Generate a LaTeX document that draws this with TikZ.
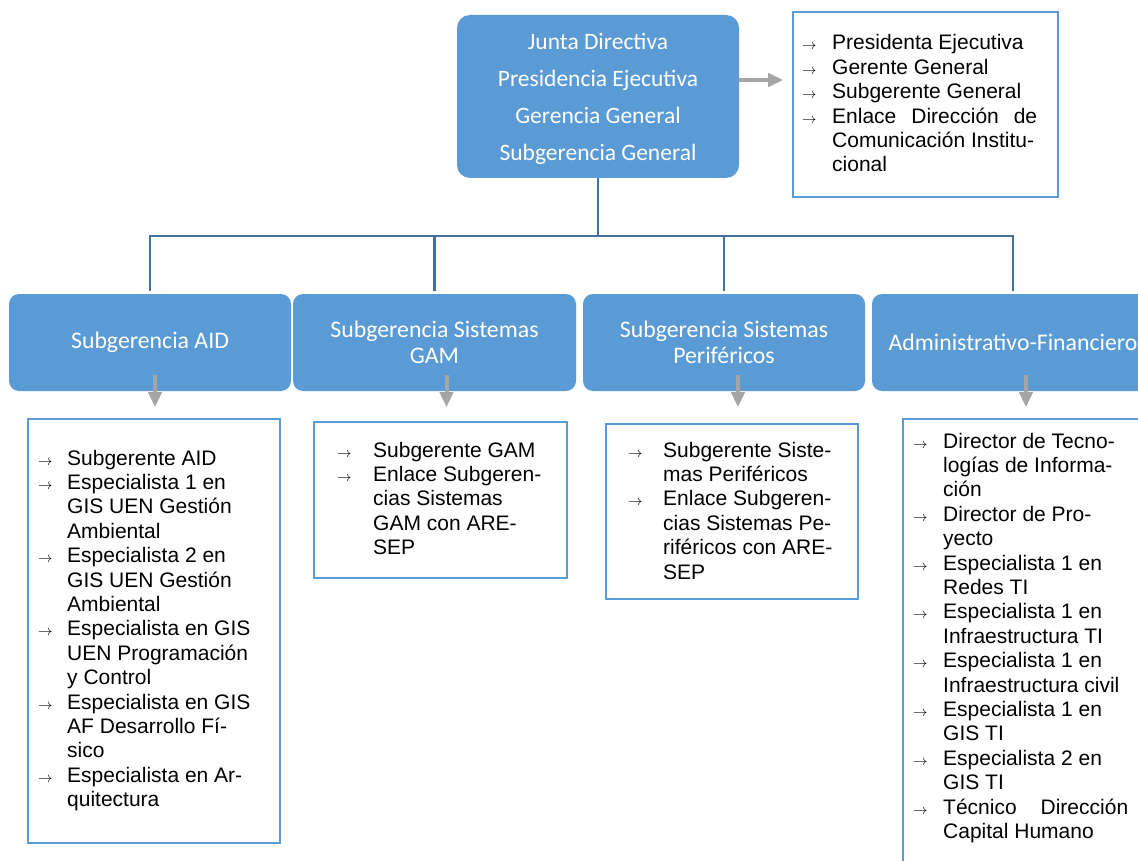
\documentclass[tikz,border=0pt]{standalone}
\usepackage{fontspec}
\setmainfont{Liberation Sans}
\newfontfamily\calibrifont{Carlito}
\usetikzlibrary{arrows.meta,calc}
\definecolor{boxblue}{RGB}{91,155,213}
\definecolor{linkblue}{RGB}{65,113,156}
\definecolor{arrowgray}{RGB}{165,165,165}
% small arrow used as list marker
\newcommand{\itemarrow}{{\fontsize{14.4}{14.4}\selectfont$\rightarrow$}}
\newcommand{\li}[1]{\itemarrow & #1\\}
\newcommand{\lc}[1]{& #1\\}
\begin{document}
\begin{tikzpicture}[x=1pt,y=-1pt,
  topbox/.style={fill=boxblue, rounded corners=13pt, text=white, align=center,
    inner sep=0pt, font=\calibrifont\fontsize{23.5}{36.7}\selectfont},
  unitbox/.style={fill=boxblue, rounded corners=10pt, text=white, align=center,
    inner sep=0pt, minimum width=282, minimum height=97,
    font=\calibrifont\fontsize{23.8}{26}\selectfont},
  listbox/.style={draw=boxblue, line width=2pt, fill=white, inner sep=0pt, anchor=north west},
  listtext/.style={anchor=base west, inner sep=0pt, font=\fontsize{21}{24.4}\selectfont},
  conn/.style={draw=linkblue, line width=2.2pt},
  grayarr/.style={draw=arrowgray, line width=4pt, -{Triangle[width=13pt,length=15pt]}, arrowgray}
]
\useasboundingbox[fill=white] (0,0) rectangle (1138,861);

% top level
\node[topbox, minimum width=282, minimum height=163] (top) at (598,96.5)
  {\rule{0pt}{21pt}Junta Directiva\\Presidencia Ejecutiva\\Gerencia General\\Subgerencia General};

% list beside the top level
\node[listbox, minimum width=265, minimum height=185] (rb) at (792,11) {};
\node[listtext] (rbt) at (802,50) {\begin{tabular}[t]{@{}p{30pt}@{}l@{}}
\li{Presidenta Ejecutiva}
\li{Gerente General}
\li{Subgerente General}
\li{\makebox[205pt][s]{Enlace Dirección de}}
\lc{Comunicación Institu-}
\lc{cional}
\end{tabular}};
\draw[grayarr] ($(top.east)+(0,-16.5)$) -- ++(44,0);

% second level
\node[unitbox] (l2a) at (150,342.5) {Subgerencia AID};
\node[unitbox, minimum width=283] (l2b) at (434.5,342.5) {Subgerencia Sistemas\\GAM};
\node[unitbox] (l2c) at (724,342.5) {Subgerencia Sistemas\\Periféricos};
\node[unitbox] (l2d) at (1013,342.5) {Administrativo-Financiero};

% tree connectors
\draw[conn] (top.south) -- ++(0,58) coordinate (hub);
\foreach \n in {l2a,l2b,l2c,l2d}
  \draw[conn] (hub) -| ([yshift=3pt]\n.north);

% lists under the second level
\node[listbox, minimum width=252, minimum height=424] (lsA) at (27,418) {};
\node[listtext] (lsAt) at (38,465) {\begin{tabular}[t]{@{}p{29pt}@{}l@{}}
\li{Subgerente AID}
\li{Especialista 1 en}
\lc{GIS UEN Gestión}
\lc{Ambiental}
\li{Especialista 2 en}
\lc{GIS UEN Gestión}
\lc{Ambiental}
\li{Especialista en GIS}
\lc{UEN Programación}
\lc{y Control}
\li{Especialista en GIS}
\lc{AF Desarrollo Fí-}
\lc{sico}
\li{Especialista en Ar-}
\lc{quitectura}
\end{tabular}};

\node[listbox, minimum width=253, minimum height=156] (lsB) at (313,421) {};
\node[listtext] (lsBt) at (337,457) {\begin{tabular}[t]{@{}p{36pt}@{}l@{}}
\li{Subgerente GAM}
\li{Enlace Subgeren-}
\lc{cias Sistemas}
\lc{GAM con ARE-}
\lc{SEP}
\end{tabular}};

\node[listbox, minimum width=252, minimum height=175] (lsC) at (605,423) {};
\node[listtext] (lsCt) at (628,457) {\begin{tabular}[t]{@{}p{35pt}@{}l@{}}
\li{Subgerente Siste-}
\lc{mas Periféricos}
\li{Enlace Subgeren-}
\lc{cias Sistemas Pe-}
\lc{riféricos con ARE-}
\lc{SEP}
\end{tabular}};

\node[listbox, minimum width=253, minimum height=480] (lsD) at (902,418) {};
\node[listtext] (lsDt) at (913,448) {\begin{tabular}[t]{@{}p{30pt}@{}l@{}}
\li{Director de Tecno-}
\lc{logías de Informa-}
\lc{ción}
\li{Director de Pro-}
\lc{yecto}
\li{Especialista 1 en}
\lc{Redes TI}
\li{Especialista 1 en}
\lc{Infraestructura TI}
\li{Especialista 1 en}
\lc{Infraestructura civil}
\li{Especialista 1 en}
\lc{GIS TI}
\li{Especialista 2 en}
\lc{GIS TI}
\li{\makebox[185pt][s]{Técnico Dirección}}
\lc{Capital Humano}
\end{tabular}};

% arrows from units to their lists
\draw[grayarr] ($(l2a.south)+(5,-16)$) -- ($(l2a.south)+(5,16)$);
\draw[grayarr] ($(l2b.south)+(12,-16)$) -- ($(l2b.south)+(12,16)$);
\draw[grayarr] ($(l2c.south)+(14,-16)$) -- ($(l2c.south)+(14,16)$);
\draw[grayarr] ($(l2d.south)+(13,-16)$) -- ($(l2d.south)+(13,16)$);
\end{tikzpicture}
\end{document}
